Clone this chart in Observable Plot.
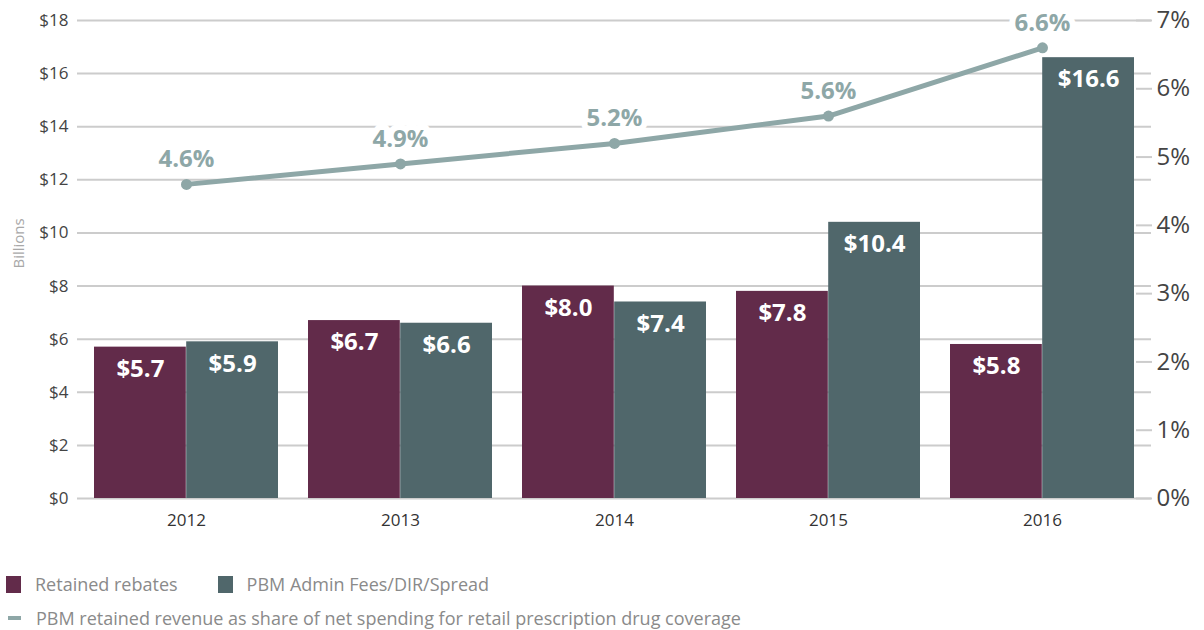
<!DOCTYPE html>
<html>
<head>
<meta charset="utf-8">
<script src="https://cdn.jsdelivr.net/npm/d3@7"></script>
<script src="https://cdn.jsdelivr.net/npm/@observablehq/plot@0.6"></script>
<style>
  html, body { margin: 0; padding: 0; background: #fff; }
  body { width: 1204px; height: 630px; position: relative; font-family: "Open Sans", sans-serif; overflow: hidden; }
  #chart { position: absolute; left: 0; top: 0; }
  .legend { position: absolute; left: 0; font-size: 18px; color: #8a8a8a; display: flex; align-items: center; white-space: nowrap; }
  .sw { display: inline-block; width: 15px; height: 17px; margin-right: 14px; }
  .dash { display: inline-block; width: 13px; height: 4px; margin-right: 15px; margin-left: 2px; }
</style>
</head>
<body>
<div id="chart"></div>
<div class="legend" style="top:572px; left:6px;">
  <span class="sw" style="background:#622b4a"></span><span>Retained rebates</span>
  <span class="sw" style="background:#50676b; margin-left:40px;"></span><span>PBM Admin Fees/DIR/Spread</span>
</div>
<div class="legend" style="top:606px; left:6px;">
  <span class="dash" style="background:#8ea7a7"></span><span>PBM retained revenue as share of net spending for retail prescription drug coverage</span>
</div>
<script>
const years = ["2012", "2013", "2014", "2015", "2016"];
const retainedRebates = [5.7, 6.7, 8.0, 7.8, 5.8];
const adminFees = [5.9, 6.6, 7.4, 10.4, 16.6];
const shareOfSpending = [4.6, 4.9, 5.2, 5.6, 6.6];
const dollarTicks = [0, 2, 4, 6, 8, 10, 12, 14, 16, 18];
const percentTicks = [0, 1, 2, 3, 4, 5, 6, 7];

const yMax = 18, pMax = 7;
const toLeft = p => p * yMax / pMax;

const rows = years.map((year, i) => ({
  year,
  rebate: retainedRebates[i],
  admin: adminFees[i],
  share: shareOfSpending[i]
}));

const cRebate = "#622b4a", cAdmin = "#50676b", cLine = "#8ea7a7", cGrid = "#cccccc";
const half = 92.2;

const chart = Plot.plot({
  width: 1204,
  height: 545,
  marginLeft: 77,
  marginRight: 53,
  marginTop: 20,
  marginBottom: 47,
  style: { fontFamily: "Open Sans, sans-serif", background: "white" },
  x: { domain: years, paddingInner: 30 / 214, paddingOuter: 16 / 214 },
  y: { domain: [0, yMax] },
  marks: [
    Plot.gridY(dollarTicks, { stroke: cGrid, strokeOpacity: 1, strokeWidth: 2 }),
    Plot.barY(rows, { x: "year", y: "rebate", fill: cRebate, insetRight: half }),
    Plot.barY(rows, { x: "year", y: "admin", fill: cAdmin, insetLeft: half }),
    Plot.text(rows, { x: "year", y: "rebate", text: d => "$" + d.rebate.toFixed(1), dx: -half / 2, dy: 22, fill: "white", fontSize: 24, fontWeight: "bold" }),
    Plot.text(rows, { x: "year", y: "admin", text: d => "$" + d.admin.toFixed(1), dx: half / 2, dy: 22, fill: "white", fontSize: 24, fontWeight: "bold" }),
    Plot.line(rows, { x: "year", y: d => toLeft(d.share), stroke: cLine, strokeWidth: 5 }),
    Plot.dot(rows, { x: "year", y: d => toLeft(d.share), r: 5.5, fill: cLine }),
    Plot.text(rows, { x: "year", y: d => toLeft(d.share), text: d => d.share.toFixed(1) + "%", dy: -25, fill: cLine, stroke: "white", strokeWidth: 12, fontSize: 24, fontWeight: "bold" }),
    Plot.axisY(dollarTicks, { anchor: "left", tickSize: 0, tickPadding: 9, tickFormat: d => "$" + d, fontSize: 17, fill: "#444", label: null }),
    Plot.axisY(percentTicks.map(toLeft), { anchor: "right", tickSize: -16, tickPadding: 21, stroke: cGrid, strokeWidth: 2, fill: "#444", tickFormat: d => Math.round(d * pMax / yMax) + "%", fontSize: 24, label: null }),
    Plot.axisX({ tickSize: 0, tickPadding: 15, fontSize: 17, fill: "#333", label: null }),
    Plot.text(["Billions"], { frameAnchor: "left", text: d => d, rotate: -90, dx: -58, dy: 9, fill: "#a8a8a8", fontSize: 15 })
  ]
});
document.getElementById("chart").appendChild(chart);
</script>
</body>
</html>
